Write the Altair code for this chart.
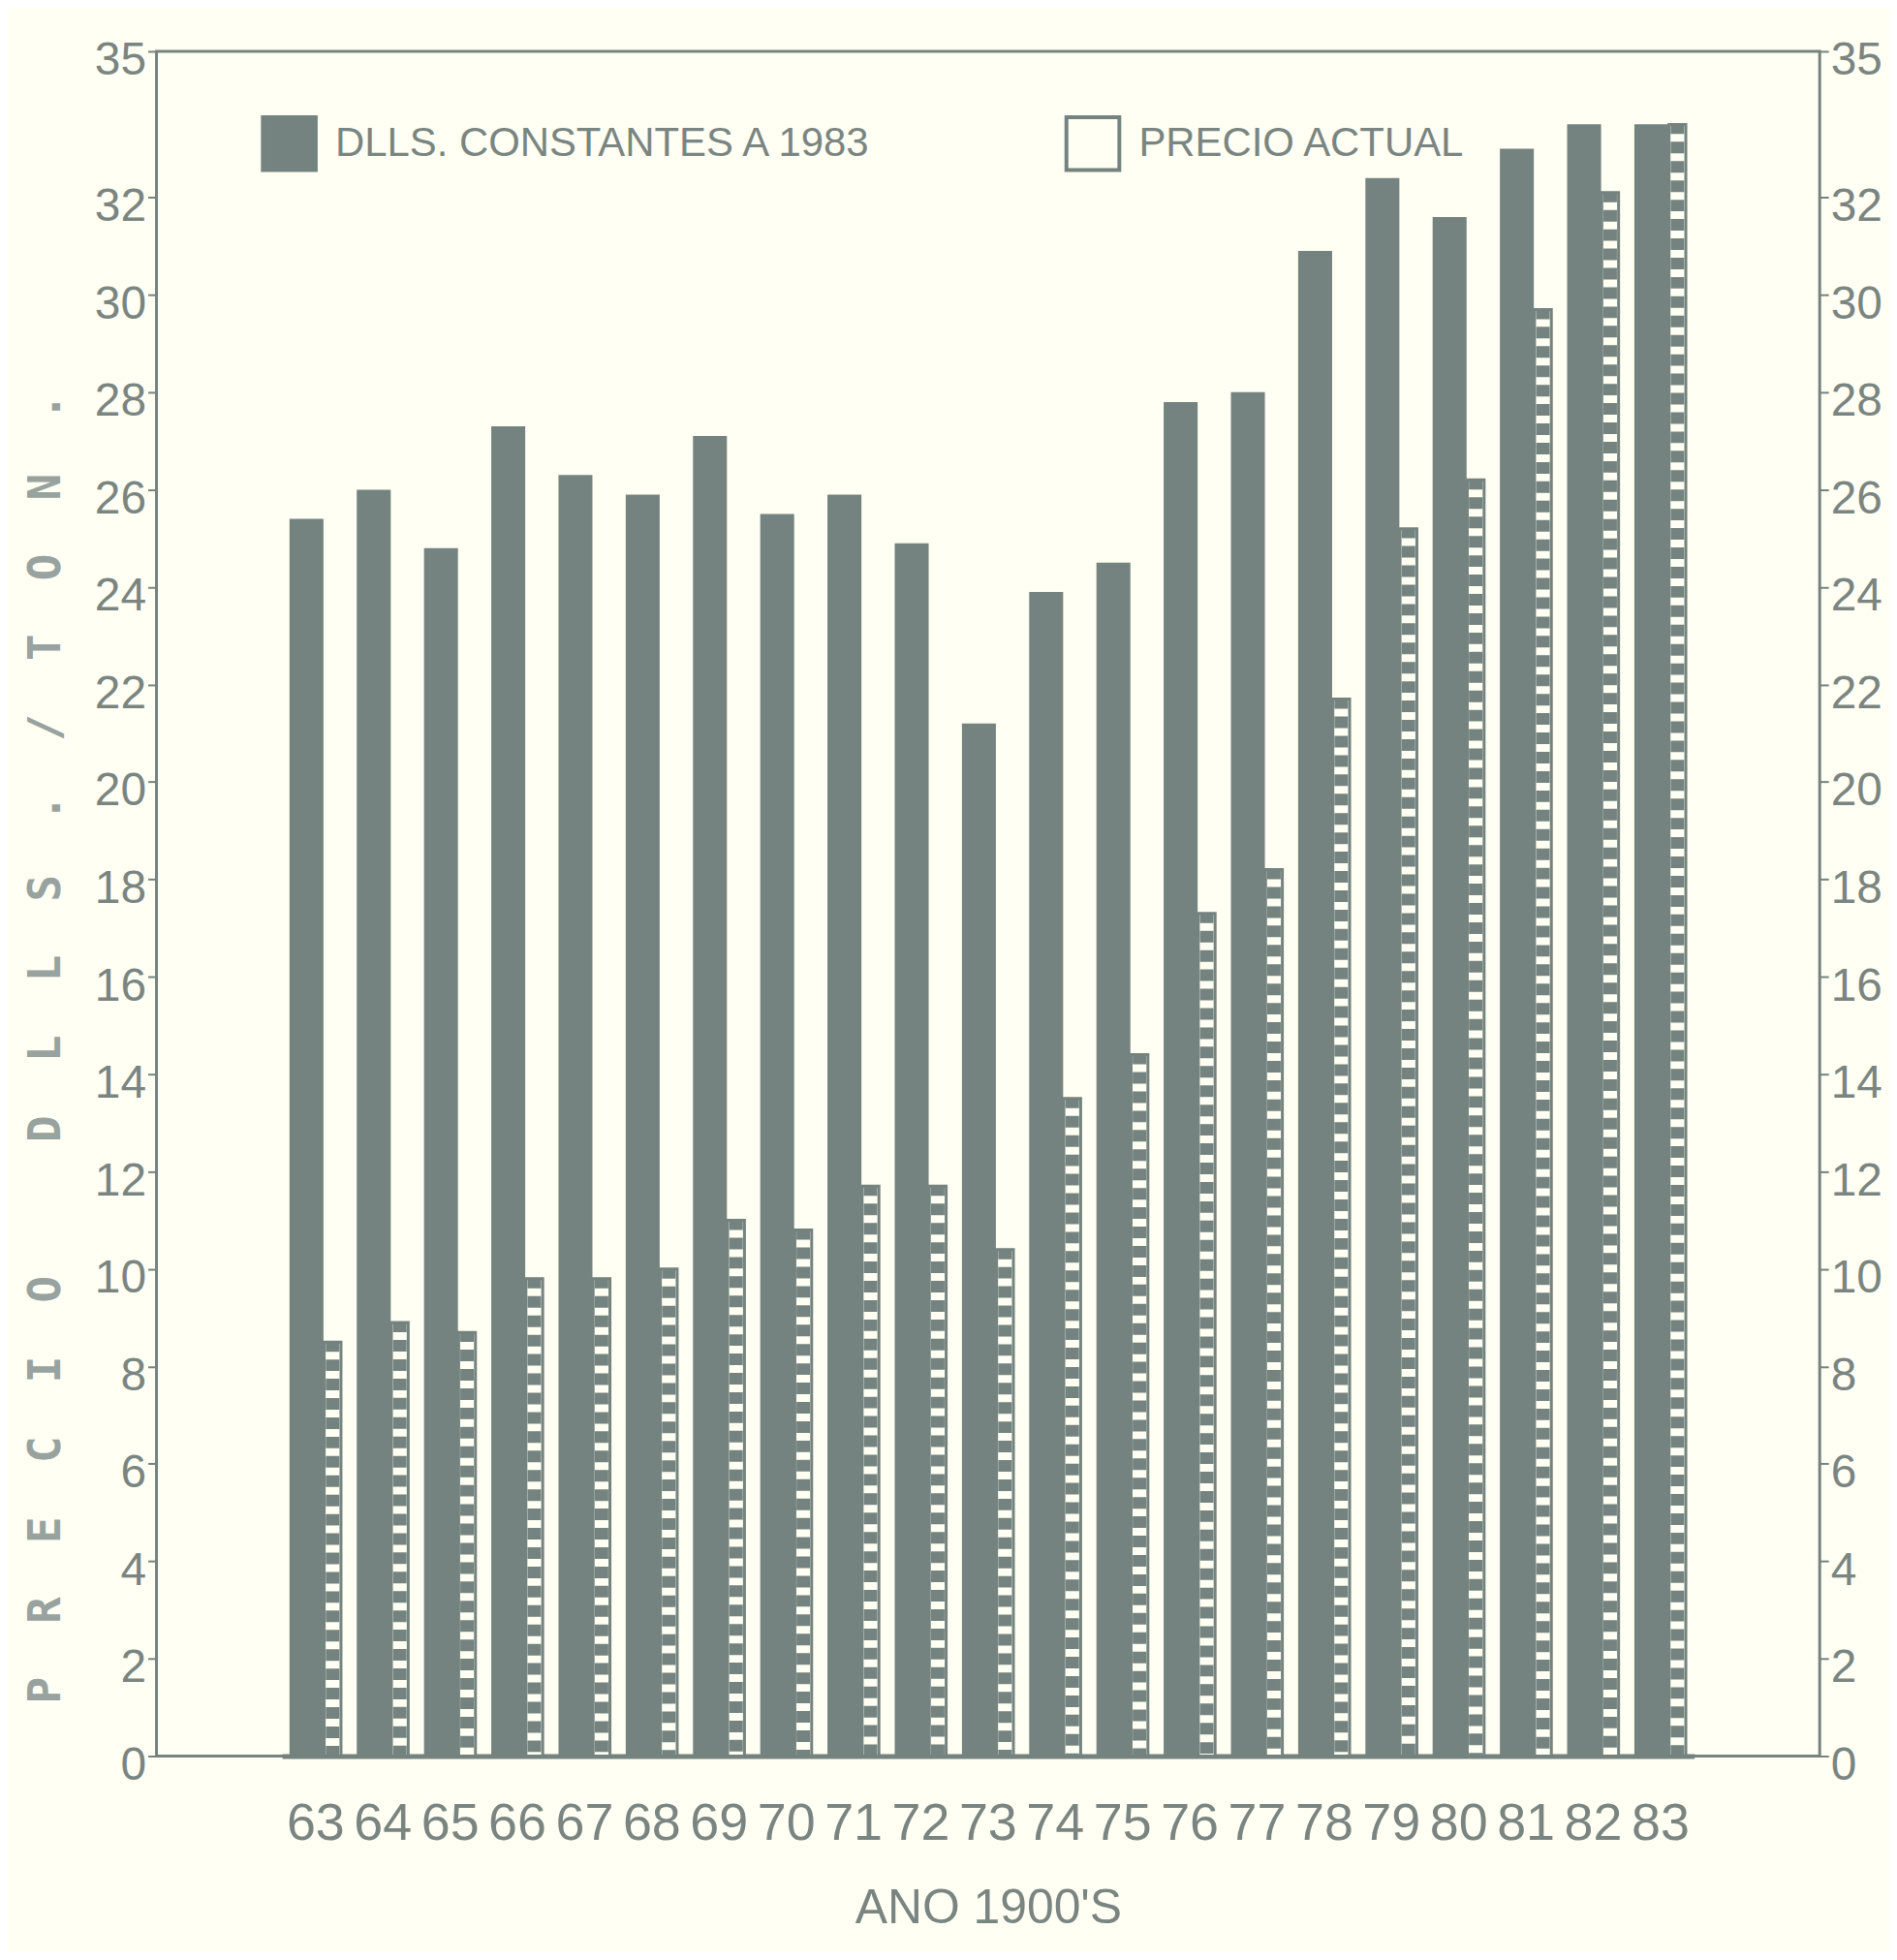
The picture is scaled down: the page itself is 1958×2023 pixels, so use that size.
import altair as alt
import pandas as pd

years = ["63", "64", "65", "66", "67", "68", "69", "70", "71", "72", "73",
         "74", "75", "76", "77", "78", "79", "80", "81", "82", "83"]
dlls_constantes = [25.4, 26.0, 24.8, 27.3, 26.3, 25.9, 27.1, 25.5, 25.9, 24.9, 21.2,
                   23.9, 24.5, 27.8, 28.0, 30.9, 32.4, 31.6, 33.0, 33.5, 33.5]
precio_actual = [8.5, 8.9, 8.7, 9.8, 9.8, 10.0, 11.0, 10.8, 11.7, 11.7, 10.4,
                 13.5, 14.4, 17.3, 18.2, 21.7, 25.2, 26.2, 29.7, 32.1, 33.5]
series_names = ["DLLS. CONSTANTES A 1983", "PRECIO ACTUAL"]
y_ticks = [0, 2, 4, 6, 8, 10, 12, 14, 16, 18, 20, 22, 24, 26, 28, 30, 32, 35]

rows = []
for i, yr in enumerate(years):
    rows.append({"anio": yr, "serie": series_names[0], "valor": dlls_constantes[i]})
    rows.append({"anio": yr, "serie": series_names[1], "valor": precio_actual[i]})
df = pd.DataFrame(rows)

INK = "#74837f"
TXT = "#7a8581"
BG = "#fffff3"
NARROW = "Liberation Sans, Arial, sans-serif"
MONO = "DejaVu Sans Mono, Liberation Mono, monospace"

nb = "\u00a0\u00a0"
ytitle = nb.join(list("PRECIO")) + "\u00a0" * 5 + nb.join(list("DLLS./TON."))

x_scale = alt.Scale(paddingInner=0, paddingOuter=0, range=[130, 1592])

x_enc = alt.X(
    "anio:N",
    sort=years,
    scale=x_scale,
    axis=alt.Axis(
        title="ANO 1900'S",
        labelAngle=0,
        ticks=False,
        labelPadding=70,
        labelFontSize=54,
        labelFont=NARROW,
        labelColor=TXT,
        labelBaseline="middle",
        titleFont=NARROW,
        titleFontSize=50,
        titleFontWeight="normal",
        titleColor=TXT,
        titleY=158,
        titleBaseline="middle",
        domainColor=INK,
        domainWidth=5,
    ),
)

y_scale = alt.Scale(domain=[0, 35], nice=False, zero=True)

color_enc = alt.Color(
    "serie:N",
    sort=series_names,
    scale=alt.Scale(domain=series_names, range=[INK, BG]),
    legend=alt.Legend(
        title=None,
        orient="none",
        legendX=108,
        legendY=66,
        direction="horizontal",
        columns=2,
        columnPadding=191,
        symbolType="square",
        symbolSize=3000,
        symbolStrokeColor=INK,
        symbolStrokeWidth=4,
        symbolOpacity=1,
        labelFont=NARROW,
        labelFontSize=42,
        labelColor=TXT,
        labelOffset=18,
        labelLimit=2000,
    ),
)

base = alt.Chart(df)

y_axis_common = dict(
    values=y_ticks,
    grid=False,
    domain=False,
    tickSize=9,
    tickWidth=2,
    tickColor=INK,
    labelFontSize=48,
    labelFont=NARROW,
    labelColor=TXT,
    labelPadding=2,
    labelOffset=10,
)

solid = base.transform_filter(
    alt.datum.serie == series_names[0]
).mark_bar(
    width=alt.RelativeBandSize(0.505), xOffset=-9.5
).encode(
    x=x_enc,
    y=alt.Y(
        "valor:Q",
        scale=y_scale,
        axis=alt.Axis(
            orient="left",
            title=ytitle,
            titleFont=MONO,
            titleFontSize=46,
            titleFontWeight="bold",
            titleColor="#98a29e",
            titleX=-114,
            titleY=1032,
            titleBaseline="middle",
            **y_axis_common,
        ),
    ),
    color=color_enc,
)

pattern = base.transform_filter(
    alt.datum.serie == series_names[1]
).mark_bar(
    width=alt.RelativeBandSize(0.25), xOffset=17.5, stroke=INK, strokeWidth=3
).encode(
    x=x_enc,
    y=alt.Y(
        "valor:Q",
        scale=y_scale,
        axis=alt.Axis(orient="right", title=None, **y_axis_common),
    ),
    color=color_enc,
)

windows = base.transform_filter(
    alt.datum.serie == series_names[1]
).mark_rule(
    color=INK, strokeWidth=14, strokeDash=[12, 8], strokeDashOffset=2, xOffset=17.5
).encode(
    x=alt.X("anio:N", sort=years, scale=x_scale),
    y=alt.Y("valor:Q", scale=y_scale, axis=None),
    y2=alt.Y2(datum=0),
)

chart = alt.layer(solid, pattern, windows).resolve_axis(
    y="independent"
).properties(
    width=1722,
    height=1765,
    autosize=alt.AutoSizeParams(type="none"),
    padding={"left": 154, "top": 42, "right": 72, "bottom": 200},
    background=BG,
).configure_view(
    stroke=INK, strokeWidth=3, fill=BG
)

chart.save("out.html", embed_options={"renderer": "svg", "actions": False})
